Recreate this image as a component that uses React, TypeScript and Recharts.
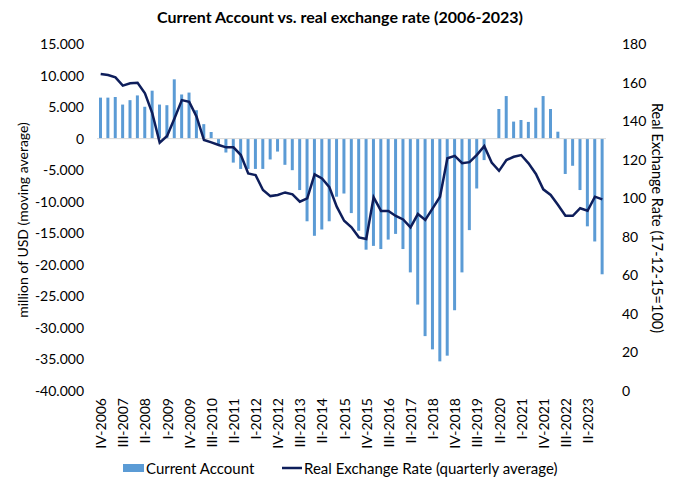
import React from 'react';
import { ComposedChart, Bar, Line, XAxis, YAxis, ReferenceLine } from 'recharts';

const quarters: string[] = [
  'IV-2006',
  'I-2007', 'II-2007', 'III-2007', 'IV-2007',
  'I-2008', 'II-2008', 'III-2008', 'IV-2008',
  'I-2009', 'II-2009', 'III-2009', 'IV-2009',
  'I-2010', 'II-2010', 'III-2010', 'IV-2010',
  'I-2011', 'II-2011', 'III-2011', 'IV-2011',
  'I-2012', 'II-2012', 'III-2012', 'IV-2012',
  'I-2013', 'II-2013', 'III-2013', 'IV-2013',
  'I-2014', 'II-2014', 'III-2014', 'IV-2014',
  'I-2015', 'II-2015', 'III-2015', 'IV-2015',
  'I-2016', 'II-2016', 'III-2016', 'IV-2016',
  'I-2017', 'II-2017', 'III-2017', 'IV-2017',
  'I-2018', 'II-2018', 'III-2018', 'IV-2018',
  'I-2019', 'II-2019', 'III-2019', 'IV-2019',
  'I-2020', 'II-2020', 'III-2020', 'IV-2020',
  'I-2021', 'II-2021', 'III-2021', 'IV-2021',
  'I-2022', 'II-2022', 'III-2022', 'IV-2022',
  'I-2023', 'II-2023', 'III-2023', 'IV-2023',
];

const currentAccount: number[] = [
  6500, 6500, 6600, 5400, 6100, 6850, 5050, 7600, 5400, 5300,
  9400, 7000, 7300, 4500, 2300, 1050, -900, -2200, -3800, -4800,
  -4800, -4800, -4800, -3300, -2050, -4150, -5000, -8150, -13100, -15400,
  -14400, -13100, -9200, -8700, -11800, -14600, -17600, -17000, -17500, -16000,
  -15100, -17500, -21200, -26300, -31300, -33400, -35300, -34400, -27200, -21200,
  -14500, -7900, -3400, 0, 4700, 6750, 2700, 2950, 2650, 4900,
  6750, 4700, 1100, -5600, -4300, -8150, -13900, -16300, -21500,
];

const realExchangeRate: number[] = [
  164.4, 163.9, 162.7, 158.4, 159.6, 159.9, 154.4, 144.0, 128.8, 132.3,
  141.4, 150.9, 150.0, 142.3, 130.2, 129.0, 127.6, 126.4, 126.4, 122.4,
  112.9, 112.0, 104.3, 101.1, 101.7, 103.0, 102.0, 98.2, 99.9, 112.4,
  110.3, 105.7, 95.6, 88.3, 84.9, 79.7, 78.8, 100.5, 93.4, 93.4,
  90.8, 89.0, 84.9, 91.8, 88.7, 94.7, 100.8, 120.7, 122.0, 118.2,
  118.7, 122.5, 127.0, 118.5, 114.2, 119.8, 121.5, 122.4, 118.1, 112.6,
  104.6, 101.7, 96.5, 90.9, 90.9, 94.8, 93.5, 100.8, 99.4,
];

const leftTicks: number[] = [15000, 10000, 5000, 0, -5000, -10000, -15000, -20000, -25000, -30000, -35000, -40000];
const rightTicks: number[] = [0, 20, 40, 60, 80, 100, 120, 140, 160, 180];

const data = quarters.map((q, i) => ({
  q,
  ca: currentAccount[i],
  rer: realExchangeRate[i],
}));

const FONT = 'Lato, "Liberation Sans", sans-serif';
const BAR_COLOR = '#5B9BD5';
const LINE_COLOR = '#0E1E5B';

const fmtLeft = (v: number) => {
  if (v === 0) return '0';
  const abs = Math.abs(v);
  const s = (abs / 1000).toFixed(3);
  return (v < 0 ? '-' : '') + s;
};

const XTick = (props: any) => {
  const { x, y, payload } = props;
  return (
    <text
      x={x}
      y={y}
      transform={`rotate(-90, ${x}, ${y})`}
      textAnchor="end"
      dominantBaseline="central"
      fontFamily={FONT}
      fontSize={14}
      fill="#000"
    >
      {payload.value}
    </text>
  );
};

export default function App() {
  return (
    <div style={{ position: 'absolute', left: 0, top: 0, width: 675, height: 483, background: '#fff', fontFamily: FONT }}>
      <ComposedChart
        width={675}
        height={483}
        data={data}
        margin={{ top: 44, right: 0, bottom: 30, left: 0 }}
        barCategoryGap={0}
      >
        <XAxis
          dataKey="q"
          interval={2}
          axisLine={false}
          tickLine={false}
          height={62}
          tick={<XTick />}
          tickMargin={1}
          tickSize={6}
        />
        <YAxis
          yAxisId="left"
          orientation="left"
          width={97}
          domain={[-40000, 15000]}
          ticks={leftTicks}
          tickFormatter={fmtLeft}
          axisLine={false}
          tickLine={false}
          tickSize={6}
          tickMargin={7}
          tick={{ fontSize: 14, fill: '#000', fontFamily: FONT }}
          interval={0}
        />
        <YAxis
          yAxisId="right"
          orientation="right"
          width={69}
          domain={[0, 180]}
          ticks={rightTicks}
          axisLine={false}
          tickLine={false}
          tickSize={6}
          tickMargin={10}
          tick={{ fontSize: 14, fill: '#000', fontFamily: FONT }}
          interval={0}
        />
        <ReferenceLine yAxisId="left" y={0} stroke="#d9d9d9" strokeWidth={1} />
        <Bar yAxisId="left" dataKey="ca" fill={BAR_COLOR} barSize={3} isAnimationActive={false} />
        <Line
          yAxisId="right"
          dataKey="rer"
          type="linear"
          stroke={LINE_COLOR}
          strokeWidth={2.5}
          dot={false}
          isAnimationActive={false}
        />
      </ComposedChart>
      <svg
        width={675}
        height={483}
        style={{ position: 'absolute', left: 0, top: 0, pointerEvents: 'none' }}
      >
        <text x={340} y={16} textAnchor="middle" dominantBaseline="central" fontFamily={FONT} fontWeight="bold" fontSize={16} fill="#000">
          Current Account vs. real exchange rate (2006-2023)
        </text>
        <text
          x={22}
          y={220}
          transform="rotate(-90, 22, 220)"
          textAnchor="middle"
          dominantBaseline="central"
          fontFamily={FONT}
          fontSize={14}
          fill="#000"
        >
          million of USD (moving average)
        </text>
        <text
          x={657}
          y={218}
          transform="rotate(90, 657, 218)"
          textAnchor="middle"
          dominantBaseline="central"
          fontFamily={FONT}
          fontSize={14.5}
          fill="#000"
        >
          Real Exchange Rate (17-12-15=100)
        </text>
        <rect x={123} y={464} width={21} height={8} fill={BAR_COLOR} />
        <text x={146} y={468} dominantBaseline="central" fontFamily={FONT} fontSize={15} fill="#000">
          Current Account
        </text>
        <line x1={282} y1={468} x2={302} y2={468} stroke={LINE_COLOR} strokeWidth={2.5} />
        <text x={304} y={468} dominantBaseline="central" fontFamily={FONT} fontSize={15} fill="#000">
          Real Exchange Rate (quarterly average)
        </text>
      </svg>
    </div>
  );
}
